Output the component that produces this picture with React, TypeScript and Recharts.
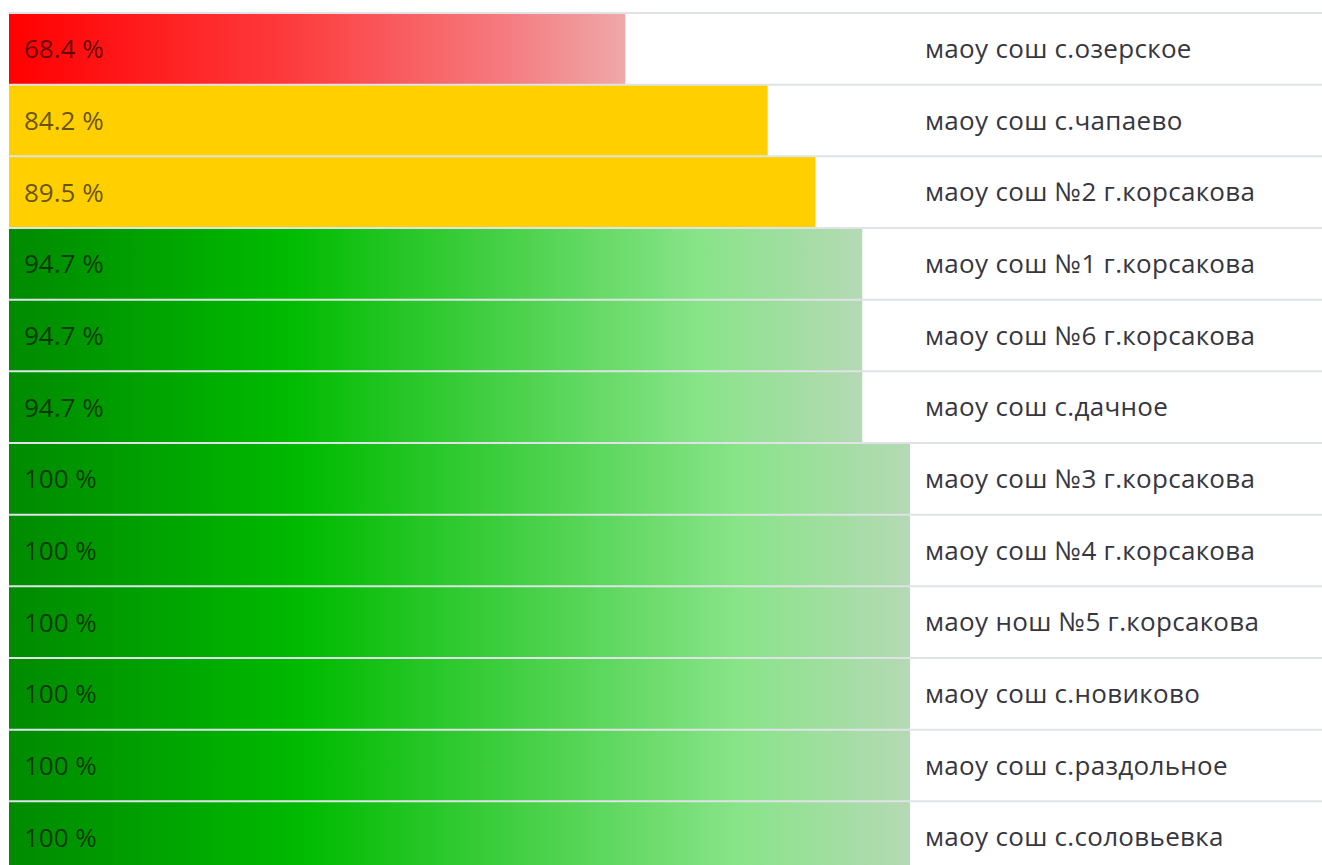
import React from 'react';
import { BarChart, Bar, XAxis, YAxis, Cell, LabelList } from 'recharts';

const schools = [
  'маоу сош с.озерское',
  'маоу сош с.чапаево',
  'маоу сош №2 г.корсакова',
  'маоу сош №1 г.корсакова',
  'маоу сош №6 г.корсакова',
  'маоу сош с.дачное',
  'маоу сош №3 г.корсакова',
  'маоу сош №4 г.корсакова',
  'маоу нош №5 г.корсакова',
  'маоу сош с.новиково',
  'маоу сош с.раздольное',
  'маоу сош с.соловьевка',
];
const percents = [68.4, 84.2, 89.5, 94.7, 94.7, 94.7, 100, 100, 100, 100, 100, 100];

const data = schools.map((name, i) => ({ name, value: percents[i] }));

const FONT = '"Open Sans", "Noto Sans", sans-serif';

// цвет полосы по порогам
const fillFor = (v: number) => {
  if (v < 70) return 'url(#gradRed)';
  if (v < 90) return '#ffcf00';
  return 'url(#gradGreen)';
};

const RowBar = (props: any) => {
  const { x, y, width, height, fill } = props;
  return (
    <g>
      <rect x={x} y={y} width={width} height={height} fill={fill} />
      <line x1={9} x2={1322} y1={y} y2={y} stroke="#dfe3e8" strokeWidth={2} />
    </g>
  );
};

const SchoolTick = (props: any) => {
  const { x, y, payload } = props;
  return (
    <text x={x} y={y} dy={9} fill="#363640" fontSize={26} letterSpacing={0.3} fontFamily={FONT} textAnchor="start">
      {payload.value}
    </text>
  );
};

export default function App() {
  return (
    <div style={{ position: 'fixed', left: 0, top: 0, width: 1322, height: 865, overflow: 'hidden', background: '#fff' }}>
      <BarChart
        width={1322}
        height={873}
        data={data}
        layout="vertical"
        barCategoryGap={0}
        margin={{ top: 13, right: 0, bottom: 0, left: 9 }}
      >
        <defs>
          <linearGradient id="gradRed" x1="0" y1="0" x2="1" y2="0">
            <stop offset="0%" stopColor="#ff0000" />
            <stop offset="45%" stopColor="#fd3a3c" />
            <stop offset="80%" stopColor="#f57a7e" />
            <stop offset="100%" stopColor="#efa8a8" />
          </linearGradient>
          <linearGradient id="gradGreen" x1="0" y1="0" x2="1" y2="0">
            <stop offset="0%" stopColor="#008a00" />
            <stop offset="33%" stopColor="#00bb00" />
            <stop offset="81%" stopColor="#88e488" />
            <stop offset="100%" stopColor="#b5d9b5" />
          </linearGradient>
        </defs>
        <XAxis type="number" domain={[0, 100]} hide />
        <YAxis
          type="category"
          dataKey="name"
          orientation="right"
          width={412}
          axisLine={false}
          tickLine={false}
          tickSize={0}
          tickMargin={15}
          interval={0}
          tick={<SchoolTick />}
        />
        <Bar dataKey="value" shape={<RowBar />} isAnimationActive={false}>
          {data.map((d, i) => (
            <Cell key={i} fill={fillFor(d.value)} />
          ))}
          <LabelList
            dataKey="value"
            position="insideLeft"
            offset={15}
            formatter={(v: any) => `${v} %`}
            style={{ fill: 'rgba(0,0,0,0.62)', fontSize: 26, fontFamily: FONT }}
          />
        </Bar>
      </BarChart>
    </div>
  );
}
